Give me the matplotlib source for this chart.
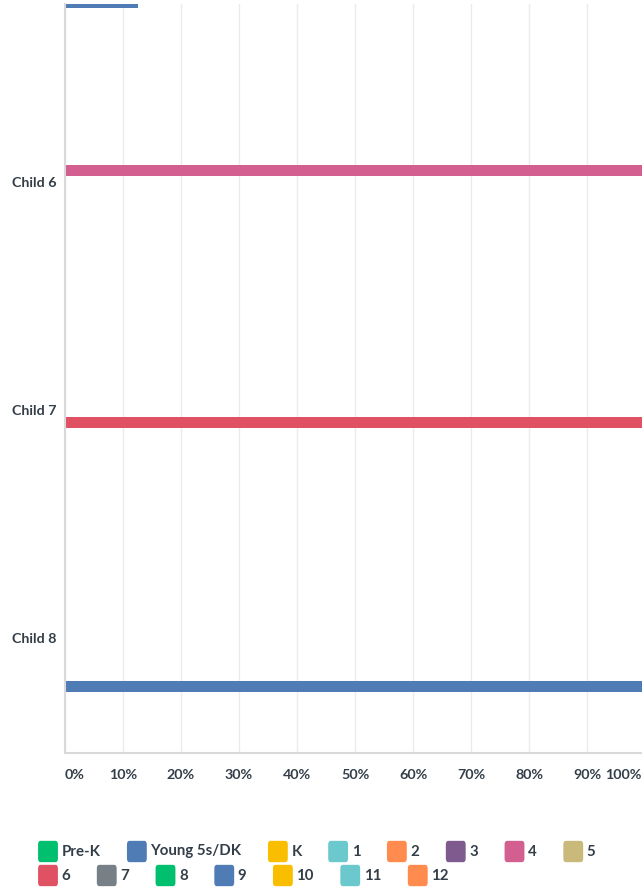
import numpy as np
import matplotlib
matplotlib.use("Agg")
import matplotlib.pyplot as plt
import matplotlib.transforms as mtrans
from matplotlib.patches import FancyBboxPatch

# data (percent of answers per child)
children = ["Child 5", "Child 6", "Child 7", "Child 8"]
grades = ["Pre-K", "Young 5s/DK", "K", "1", "2", "3", "4", "5",
          "6", "7", "8", "9", "10", "11", "12"]
child5 = [0, 0, 0, 0, 0, 0, 0, 0, 0, 0, 0, 12.5, 0, 0, 0]
child6 = [0, 0, 0, 0, 0, 0, 100, 0, 0, 0, 0, 0, 0, 0, 0]
child7 = [0, 0, 0, 0, 0, 0, 0, 0, 100, 0, 0, 0, 0, 0, 0]
child8 = [0, 0, 0, 0, 0, 0, 0, 0, 0, 0, 0, 100, 0, 0, 0]
xticks = [0, 10, 20, 30, 40, 50, 60, 70, 80, 90, 100]

colors = ["#00bf6f", "#507cb6", "#f9be00", "#6bc8cd", "#ff8b4f", "#7f5a8f",
          "#d25f90", "#c9b97b", "#e05263", "#768086", "#00bf6f", "#507cb6",
          "#f9be00", "#6bc8cd", "#ff8b4f"]

txtcol = "#333e48"
plt.rcParams["font.family"] = ["Lato", "DejaVu Sans"]
plt.rcParams["font.weight"] = "bold"

W, H = 642, 890
fig = plt.figure(figsize=(W / 100, H / 100), dpi=100)
# axes box in pixels: left 65, right 645 (past the edge), top 4, bottom 752.5
ax = fig.add_axes([65 / W, 1 - 752.5 / H, 580 / W, (752.5 - 4) / H])

values = np.array([child5, child6, child7, child8])
pos = np.arange(5, 5 + len(children))
slot = 12 / 228
barh = 11 / 228
mid = (len(grades) - 1) / 2
for k, g in enumerate(grades):
    ax.barh(pos + (k - mid) * slot, values[:, k], height=barh,
            color=colors[k], linewidth=0, zorder=3)

ax.set_xlim(0, 100)
ax.set_ylim(8.5, 6 - 178.5 / 228)
ax.set_yticks(pos[1:])
ax.set_yticklabels(children[1:])
ax.set_xticks(xticks)
ax.set_xticklabels([f"{v}%" for v in xticks])
ax.tick_params(axis="both", length=0, labelsize=10.3, colors=txtcol)
ax.tick_params(axis="x", pad=12)
ax.tick_params(axis="y", pad=6)
labs = ax.get_xticklabels()
labs[0].set_ha("left")
labs[-1].set_ha("right")
labs[-1].set_transform(labs[-1].get_transform() +
                       mtrans.ScaledTranslation(-4 / 100, 0, fig.dpi_scale_trans))
ax.grid(axis="x", color="#ebebeb", linewidth=1)
ax.set_axisbelow(True)
for s in ["top", "right"]:
    ax.spines[s].set_visible(False)
for s in ["left", "bottom"]:
    ax.spines[s].set_color("#d9d9d9")
    ax.spines[s].set_linewidth(1.5)
ax.spines["left"].set_zorder(4)

# legend, flowing left to right like the original
r = fig.canvas.get_renderer()
rows = [grades[:8], grades[8:]]
rowy = [851.5, 875.5]
k = 0
for ri, row in enumerate(rows):
    x = 38.5
    y = rowy[ri]
    for g in row:
        sq = FancyBboxPatch(((x + 1.5) / W, 1 - (y + 8) / H), 16 / W, 16 / H,
                            boxstyle="round,pad=0.003,rounding_size=0.004",
                            transform=fig.transFigure, facecolor=colors[k],
                            edgecolor="none")
        fig.patches.append(sq)
        t = fig.text((x + 23) / W, 1 - y / H, g, fontsize=10.8, color=txtcol,
                     va="center", ha="left")
        tw = t.get_window_extent(r).width
        x = x + 23 + tw + 27
        k += 1

fig.savefig("out.png", dpi=100)
